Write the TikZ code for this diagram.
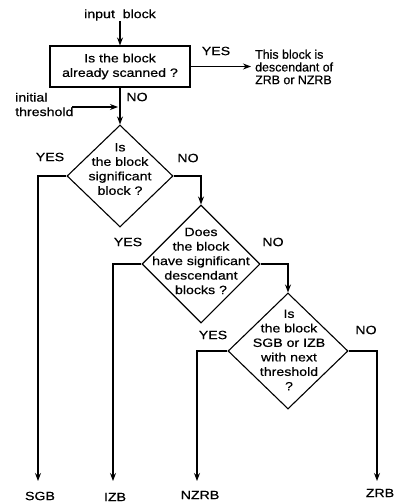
\documentclass[tikz,border=0pt]{standalone}
\usepackage{fontspec}
\setmainfont{Liberation Sans}[FakeBold=0.6]
\newfontfamily\wf{Liberation Sans}[FakeStretch=1.18,FakeBold=0.6]
\usetikzlibrary{shapes.geometric,arrows.meta}
\begin{document}
\begin{tikzpicture}[x=1pt,y=-1pt,
  every node/.style={font=\wf\fontsize{12}{14.5}\selectfont, inner sep=0pt},
  arr/.style={-{Stealth[length=8pt,width=6pt]}, line width=1.1pt},
  dia/.style={draw, diamond, line width=1.1pt},
  txt/.style={align=center}]
\useasboundingbox (0,0) rectangle (399,503);
% top
\node (in) at (120,15) {input\ \ block};
\node[draw, line width=1.1pt, minimum width=140pt, minimum height=41pt, align=center] (box) at (120,66.5) {Is the block\\already scanned ?};
\node[font=\fontsize{12.4}{12.7}\selectfont, align=left, anchor=west] (out) at (255,67) {This block is\\descendant of\\ZRB or NZRB};
\node (ytop) at (216,51) {YES};
\node (ntop) at (137,97) {NO};
\node[align=left, anchor=west] (thr) at (15,104.5) {initial\\threshold};
\coordinate (t1) at (72,107);
\coordinate (t2) at (118,107);
% diamonds
\node[dia, minimum width=106pt, minimum height=102pt] (d1) at (120,176) {};
\node[txt] (d1t) at (120,169) {Is\\the block\\significant\\block ?};
\node[dia, minimum width=118pt, minimum height=118pt] (d2) at (201,264) {};
\node[txt] (d2t) at (201,261) {Does\\the block\\have significant\\descendant\\blocks ?};
\node[dia, minimum width=120pt, minimum height=116pt] (d3) at (288,351) {};
\node[txt] (d3t) at (289,350) {Is\\the block\\SGB or IZB\\with next\\threshold\\?};
% labels
\node (y1) at (50,157) {YES};
\node (n1) at (188,158) {NO};
\node (y2) at (128,242) {YES};
\node (n2) at (273,242) {NO};
\node (y3) at (213,335) {YES};
\node (n3) at (366,330) {NO};
% outputs
\coordinate (e1) at (38,481);
\coordinate (e2) at (113,481);
\coordinate (e3) at (197,481);
\coordinate (e4) at (377,481);
\node (sgb) at (40,496) {SGB};
\node (izb) at (115,497) {IZB};
\node (nzrb) at (200,495) {NZRB};
\node (zrb) at (380,493) {ZRB};
% connectors
\draw[arr] (in) -- (box);
\draw[arr, shorten >=4pt] (box.east) -- (box.east -| out.west);
\draw[arr] (box) -- (d1);
\draw[arr] (t1) -- (t2);
\draw[arr] (d1.east) -| (d2.north);
\draw[arr] (d2.east) -| (d3.north);
\draw[arr] (d1.west) -| (e1);
\draw[arr] (d2.west) -| (e2);
\draw[arr] (d3.west) -| (e3);
\draw[arr] (d3.east) -| (e4);
\end{tikzpicture}
\end{document}
